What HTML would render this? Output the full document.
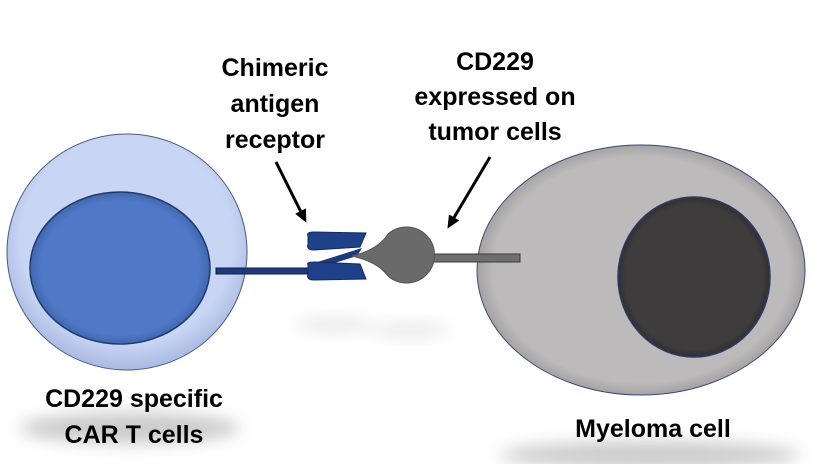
<!DOCTYPE html>
<html><head><meta charset="utf-8"><style>
html,body{margin:0;padding:0;background:#fff;}
svg{display:block}
text{font-family:"Liberation Sans",sans-serif;font-weight:bold;font-size:25px;fill:#000;text-anchor:middle}
</style></head><body>
<svg width="818" height="464" viewBox="0 0 818 464" xmlns="http://www.w3.org/2000/svg">
<defs>
<filter id="blur" x="-50%" y="-50%" width="200%" height="200%"><feGaussianBlur stdDeviation="8"/></filter>
<radialGradient id="lo" cx="50%" cy="45%" r="55%"><stop offset="80%" stop-color="#c9d5f4"/><stop offset="100%" stop-color="#a9b9e2"/></radialGradient>
<radialGradient id="li" cx="50%" cy="50%" r="55%"><stop offset="80%" stop-color="#4f78c6"/><stop offset="100%" stop-color="#35599e"/></radialGradient>
<radialGradient id="ro" cx="50%" cy="50%" r="55%"><stop offset="82%" stop-color="#bcbaba"/><stop offset="100%" stop-color="#8c8a8a"/></radialGradient>
<radialGradient id="ri" cx="50%" cy="50%" r="55%"><stop offset="82%" stop-color="#3e3c3c"/><stop offset="100%" stop-color="#242323"/></radialGradient>
<marker id="ah" markerWidth="14" markerHeight="14" refX="10" refY="7" orient="auto" markerUnits="userSpaceOnUse"><path d="M0,1 L13,7 L0,13 z" fill="#000"/></marker>
</defs>
<ellipse cx="130" cy="428" rx="110" ry="16" fill="#aaa" filter="url(#blur)" opacity="0.6"/>
<ellipse cx="650" cy="455" rx="150" ry="14" fill="#aaa" filter="url(#blur)" opacity="0.6"/>
<ellipse cx="335" cy="325" rx="40" ry="8" fill="#ccc" filter="url(#blur)" opacity="0.4"/>
<ellipse cx="410" cy="330" rx="40" ry="8" fill="#ccc" filter="url(#blur)" opacity="0.4"/>
<ellipse cx="127" cy="252" rx="120" ry="118" fill="url(#lo)" stroke="#4a5a80" stroke-width="1"/>
<ellipse cx="120" cy="268" rx="90" ry="76" fill="url(#li)" stroke="#1f3a6a" stroke-width="1.5"/>
<ellipse cx="641" cy="270" rx="164" ry="125" fill="url(#ro)" stroke="#3a4a7a" stroke-width="1"/>
<ellipse cx="694" cy="277" rx="76" ry="80" fill="url(#ri)" stroke="#2a3a6a" stroke-width="1.5"/>
<rect x="216" y="268" width="95" height="6" fill="#1e3a78" stroke="#0f224d" stroke-width="1"/>
<path d="M308,265 L362,248 L357,256 L312,270 z" fill="#1e3a78"/>
<path d="M308,236 Q306,232 314,232 L366,233 L360,247 L314,250 Q306,250 308,244 z" fill="#1f418a" stroke="#142c60" stroke-width="1"/>
<path d="M308,265 Q306,262 314,262 L360,264 L366,279 L314,280 Q306,280 308,274 z" fill="#1f418a" stroke="#142c60" stroke-width="1"/>
<rect x="425" y="254" width="95" height="8" fill="#6e6e6e" stroke="#3a3a3a" stroke-width="1"/>
<path d="M352,256 Q378,250 388,234 A28,28 0 1 1 388,276 Q378,262 352,256 z" fill="#6a6a6a" stroke="#555" stroke-width="1"/>
<line x1="276" y1="162" x2="305" y2="220" stroke="#000" stroke-width="3" marker-end="url(#ah)"/>
<line x1="490" y1="157" x2="449" y2="226" stroke="#000" stroke-width="3" marker-end="url(#ah)"/>
<text x="275" y="76">Chimeric</text>
<text x="275" y="112">antigen</text>
<text x="275" y="148">receptor</text>
<text x="495" y="70">CD229</text>
<text x="495" y="105">expressed on</text>
<text x="495" y="140">tumor cells</text>
<text x="134" y="407">CD229 specific</text>
<text x="134" y="443">CAR T cells</text>
<text x="653" y="437">Myeloma cell</text>
</svg>
</body></html>
